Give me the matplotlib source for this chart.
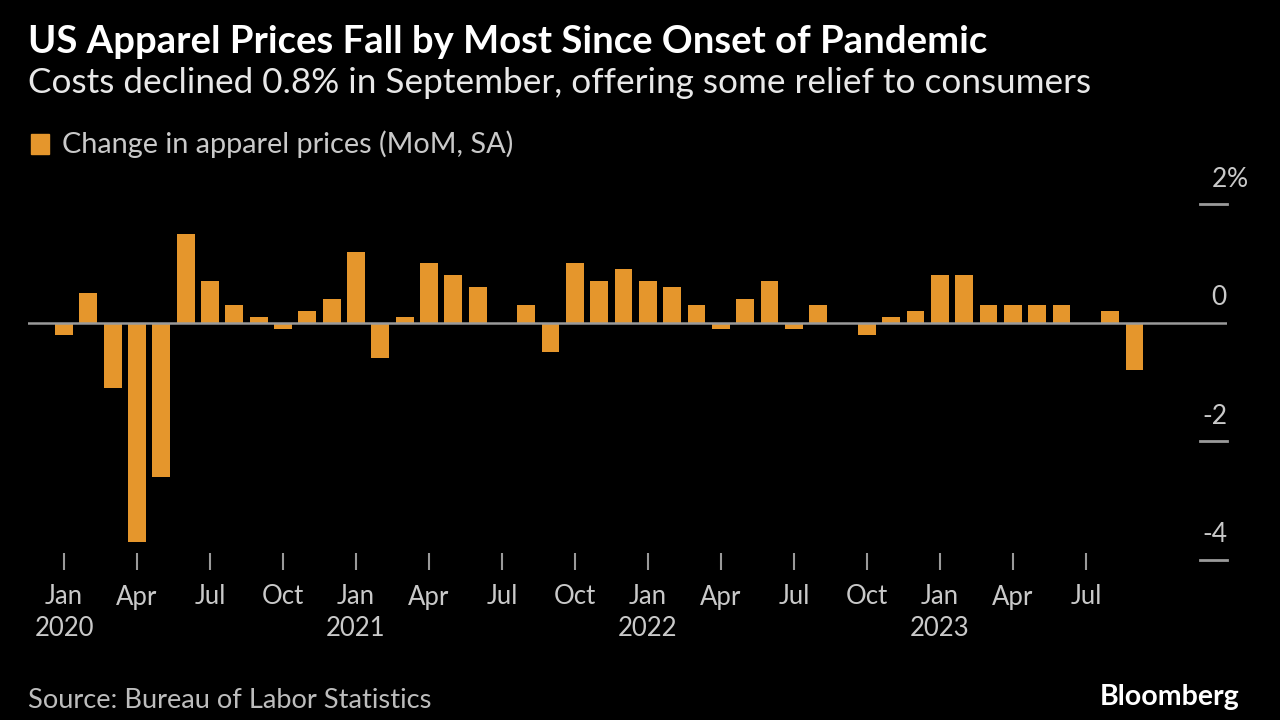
import matplotlib
matplotlib.use("Agg")
import matplotlib.pyplot as plt
import matplotlib.transforms as mtransforms

# ---- data ----
months = ["Jan", "Feb", "Mar", "Apr", "May", "Jun", "Jul", "Aug", "Sep", "Oct", "Nov", "Dec"]
years = [2020, 2021, 2022, 2023]
values_2020 = [-0.2, 0.5, -1.1, -3.7, -2.6, 1.5, 0.7, 0.3, 0.1, -0.1, 0.2, 0.4]
values_2021 = [1.2, -0.6, 0.1, 1.0, 0.8, 0.6, 0.0, 0.3, -0.5, 1.0, 0.7, 0.9]
values_2022 = [0.7, 0.6, 0.3, -0.1, 0.4, 0.7, -0.1, 0.3, 0.0, -0.2, 0.1, 0.2]
values_2023 = [0.8, 0.8, 0.3, 0.3, 0.3, 0.3, 0.0, 0.2, -0.8]
yticks = [2, 0, -2, -4]
ytick_labels = ["2", "0", "-2", "-4"]
quarter_months = ["Jan", "Apr", "Jul", "Oct"]

values = values_2020 + values_2021 + values_2022 + values_2023
x = list(range(len(values)))

FONT = ["Lato", "DejaVu Sans"]
plt.rcParams["font.family"] = FONT

BG = "#000000"
ORANGE = "#E5962C"
GRAY = "#9a9a9a"
TICKTXT = "#c9c9c9"

fig = plt.figure(figsize=(12.8, 7.2), dpi=100, facecolor=BG)
W, H = 1280, 720
ax_left, ax_right, ax_top, ax_bot = 28, 1227, 170, 570
ax = fig.add_axes([ax_left / W, 1 - ax_bot / H, (ax_right - ax_left) / W, (ax_bot - ax_top) / H])
ax.set_facecolor(BG)

ax.bar(x, values, width=0.73, color=ORANGE, zorder=2)
ax.axhline(0, color=GRAY, lw=1.8, zorder=3)

ax.set_xlim(-1.48, 47.8)
ax.set_ylim(-4.177, 2.579)

for s in ax.spines.values():
    s.set_visible(False)
ax.set_yticks([])

# x ticks every quarter
tick_pos = sorted(i for i in x if months[i % 12] in quarter_months)
ax.set_xticks(tick_pos)
ax.set_xticklabels([])
ax.tick_params(axis="x", direction="in", length=12, width=1.5, color=GRAY, bottom=True)

for p in tick_pos:
    m = months[p % 12]
    ax.annotate(m, xy=(p, 0), xycoords=("data", "axes fraction"),
                xytext=(0, -27), textcoords="offset pixels",
                ha="center", va="center", color=TICKTXT, fontsize=18.5)
    if m == "Jan":
        ax.annotate(str(years[p // 12]), xy=(p, 0), xycoords=("data", "axes fraction"),
                    xytext=(0, -59), textcoords="offset pixels",
                    ha="center", va="center", color=TICKTXT, fontsize=18.5)

# right-side y ticks (marks + labels above)
tr = mtransforms.blended_transform_factory(ax.transAxes, ax.transData)
for v, lab in zip(yticks, ytick_labels):
    if v != 0:
        ax.plot([1 - 27 / (ax_right - ax_left), 1.0], [v, v], transform=tr,
                color=GRAY, lw=2, clip_on=False, zorder=3)
    ax.annotate(lab, xy=(1.0, v), xycoords=tr, xytext=(0, 25), textcoords="offset pixels",
                ha="right", va="center", color=TICKTXT, fontsize=19)
    if v == 2:
        ax.annotate("%", xy=(1.0, v), xycoords=tr, xytext=(0, 25), textcoords="offset pixels",
                    ha="left", va="center", color=TICKTXT, fontsize=19)

# titles and legend
fig.text(28 / W, 1 - 42 / H, "US Apparel Prices Fall by Most Since Onset of Pandemic",
         color="white", fontsize=27.5, fontweight="bold", ha="left", va="center")
fig.text(28 / W, 1 - 83 / H, "Costs declined 0.8% in September, offering some relief to consumers",
         color="#e8e8e8", fontsize=25.3, ha="left", va="center")
fig.patches.append(plt.Rectangle((31 / W, 1 - 154 / H), 18 / W, 20 / H, transform=fig.transFigure,
                                 color=ORANGE, figure=fig))
fig.text(62 / W, 1 - 144 / H, "Change in apparel prices (MoM, SA)", color=TICKTXT,
         fontsize=20.8, ha="left", va="center")

fig.text(28 / W, 1 - 701 / H, "Source: Bureau of Labor Statistics", color="#bdbdbd",
         fontsize=19.6, ha="left", va="center")
fig.text(1240 / W, 1 - 697 / H, "Bloomberg", color="white", fontsize=20.5, fontweight="bold",
         ha="right", va="center")

fig.savefig("out.png", dpi=100, facecolor=BG)
